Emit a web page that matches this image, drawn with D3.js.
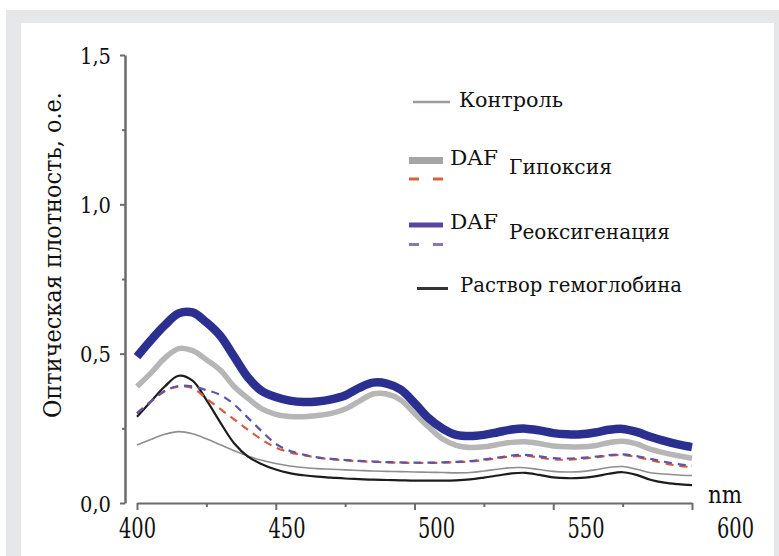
<!DOCTYPE html>
<html>
<head>
<meta charset="utf-8">
<script src="https://cdn.jsdelivr.net/npm/d3@7/dist/d3.min.js"></script>
<style>
  body { margin: 0; background: #fff; }
</style>
</head>
<body>
<script>
// длины волн, нм (шаг 5)
var wavelength = d3.range(400, 601, 5);

// Реоксигенация DAF (толстая синяя)
var reoxDAF = [0.49,0.545,0.595,0.635,0.638,0.605,0.56,0.49,0.42,0.375,0.355,0.343,0.338,0.340,0.347,0.36,0.385,0.403,0.40,0.38,
  0.335,0.285,0.25,0.228,0.224,0.228,0.237,0.246,0.249,0.243,0.234,0.230,0.230,0.236,0.245,0.248,0.238,0.222,0.208,0.196,0.187];
// Гипоксия DAF (толстая серая)
var hypoxDAF = [0.39,0.435,0.485,0.517,0.51,0.48,0.445,0.39,0.35,0.315,0.297,0.29,0.289,0.293,0.30,0.315,0.34,0.365,0.365,0.345,
  0.30,0.255,0.215,0.193,0.186,0.188,0.196,0.203,0.205,0.199,0.191,0.188,0.188,0.192,0.202,0.207,0.198,0.180,0.168,0.158,0.150];
// Реоксигенация (пунктир фиолетовый)
var reox = [0.30,0.34,0.375,0.392,0.39,0.378,0.362,0.33,0.285,0.24,0.198,0.175,0.162,0.153,0.148,0.144,0.141,0.139,0.137,0.136,
  0.135,0.135,0.136,0.138,0.14,0.146,0.152,0.159,0.161,0.156,0.150,0.149,0.151,0.155,0.160,0.163,0.157,0.148,0.138,0.130,0.125];
// Гипоксия (пунктир красный)
var hypox = [0.30,0.34,0.375,0.39,0.385,0.35,0.315,0.28,0.245,0.212,0.186,0.17,0.16,0.152,0.147,0.143,0.14,0.138,0.136,0.135,
  0.134,0.134,0.135,0.137,0.139,0.144,0.15,0.156,0.158,0.152,0.146,0.145,0.148,0.153,0.158,0.161,0.154,0.144,0.133,0.125,0.12];
// Контроль
var control = [0.194,0.213,0.23,0.239,0.232,0.215,0.195,0.175,0.157,0.143,0.132,0.124,0.119,0.115,0.113,0.111,0.109,0.107,0.106,0.105,
  0.104,0.103,0.102,0.101,0.102,0.107,0.113,0.118,0.118,0.112,0.106,0.104,0.105,0.111,0.119,0.122,0.113,0.101,0.097,0.094,0.092];
// Раствор гемоглобина
var hemoglobin = [0.289,0.34,0.39,0.426,0.41,0.345,0.27,0.2,0.155,0.13,0.112,0.1,0.093,0.088,0.085,0.082,0.080,0.078,0.077,0.076,
  0.075,0.075,0.075,0.076,0.079,0.085,0.092,0.099,0.101,0.094,0.086,0.083,0.084,0.089,0.098,0.103,0.094,0.078,0.068,0.063,0.060];

var xMajor = [400, 450, 500, 550, 600];
var xMinor = [425, 475, 525, 575];
var yMajor = [0, 0.5, 1.0, 1.5];
var yMinor = [0.25, 0.75, 1.25];

var W = 779, H = 556;
var serif = "DejaVu Serif";

var svg = d3.select("body").append("svg")
    .attr("width", W)
    .attr("height", H)
    .attr("font-family", serif);

// рамка
svg.append("rect").attr("x", 6).attr("y", 10).attr("width", W).attr("height", H).attr("fill", "#e6e7e9");
svg.append("rect").attr("x", 21).attr("y", 23).attr("width", 753).attr("height", H).attr("fill", "#fff");

var x = d3.scaleLinear().domain([400, 600]).range([137, 692]);
var xLab = d3.scaleLinear().domain([400, 600]).range([137, 735]); // подписи в оригинале сдвинуты
var y = d3.scaleLinear().domain([0, 1.5]).range([503, 55]);

var axisColor = "#6b6b6b";

// ось X
var gx = svg.append("g").attr("transform", "translate(0,503)");
gx.call(d3.axisBottom(x).tickValues(xMajor).tickSize(7).tickSizeOuter(0).tickFormat(""));
gx.append("g").call(d3.axisBottom(x).tickValues(xMinor).tickSize(4).tickSizeOuter(0).tickFormat(""))
  .select(".domain").remove();
gx.selectAll("path, line").attr("stroke", axisColor).attr("stroke-width", 2);

var gxl = svg.append("g").attr("transform", "translate(0,503)")
  .call(d3.axisBottom(xLab).tickValues(xMajor).tickSize(0).tickFormat(d3.format("d")));
gxl.attr("font-family", serif);
gxl.select(".domain").remove();
gxl.selectAll("text").attr("y", 35).attr("dy", 0)
  .attr("textLength", 37).attr("lengthAdjust", "spacingAndGlyphs")
  .style("font-size", "27px").attr("fill", "#111");

svg.append("text").attr("x", 708).attr("y", 503)
  .attr("textLength", 34).attr("lengthAdjust", "spacingAndGlyphs")
  .style("font-size", "24px").attr("fill", "#111").text("nm");

// ось Y
var gy = svg.append("g").attr("transform", "translate(125,0)");
gy.call(d3.axisLeft(y).tickValues(yMajor).tickSize(5).tickSizeOuter(0)
  .tickFormat(function(d) { return d.toFixed(1).replace(".", ","); }));
gy.attr("font-family", serif);
gy.append("g").call(d3.axisLeft(y).tickValues(yMinor).tickSize(3).tickSizeOuter(0).tickFormat(""))
  .select(".domain").remove();
gy.selectAll("path, line").attr("stroke", axisColor).attr("stroke-width", 2);
gy.select(".domain").attr("stroke-width", 2.5);
gy.selectAll("text").attr("x", -14).attr("dy", "0.36em")
  .attr("textLength", 31).attr("lengthAdjust", "spacingAndGlyphs")
  .style("font-size", "23px").attr("fill", "#111");

svg.append("text")
  .attr("transform", "translate(61,255) rotate(-90)")
  .attr("text-anchor", "middle")
  .attr("textLength", 326).attr("lengthAdjust", "spacingAndGlyphs")
  .style("font-size", "25px")
  .attr("fill", "#111")
  .text("Оптическая плотность, о.е.");

// кривые
var series = [
  {values: control,    color: "#8e8e8e", width: 1.6, dash: null},
  {values: hemoglobin, color: "#1c1c1c", width: 2.2, dash: null},
  {values: hypox,      color: "#d95a40", width: 2.2, dash: "8,6"},
  {values: reox,       color: "#5a55a6", width: 2.2, dash: "8,6"},
  {values: hypoxDAF,   color: "#b6b6b6", width: 5.5, dash: null},
  {values: reoxDAF,    color: "#2b2f8f", width: 8.5, dash: null}
];

var line = d3.line()
  .x(function(d, i) { return x(wavelength[i]); })
  .y(function(d) { return y(d); })
  .curve(d3.curveCatmullRom.alpha(0.5));

svg.append("g").selectAll("path")
  .data(series)
  .enter().append("path")
  .attr("d", function(s) { return line(s.values); })
  .attr("fill", "none")
  .attr("stroke", function(s) { return s.color; })
  .attr("stroke-width", function(s) { return s.width; })
  .attr("stroke-dasharray", function(s) { return s.dash; })
  .attr("stroke-linejoin", "round");

// легенда
var lg = svg.append("g").style("font-size", "21px").attr("fill", "#111");

function legLine(x1, x2, yy, color, w, dash) {
  lg.append("line").attr("x1", x1).attr("x2", x2).attr("y1", yy).attr("y2", yy)
    .attr("stroke", color).attr("stroke-width", w).attr("stroke-dasharray", dash);
}
function legText(tx, ty, len, s) {
  lg.append("text").attr("x", tx).attr("y", ty)
    .attr("textLength", len).attr("lengthAdjust", "spacingAndGlyphs").text(s);
}

legLine(413, 450, 102, "#a09898", 2.5, null);
legText(459, 107, 104, "Контроль");

legLine(409, 443, 160.5, "#a5a5a5", 7, null);
legLine(409, 443, 179, "#d9603f", 3, "10,14");
legText(450, 165, 48, "DAF");
legText(509, 174, 103, "Гипоксия");

legLine(409, 443, 225, "#5b44a0", 5, null);
legLine(409, 443, 244.5, "#8877b8", 3, "10,14");
legText(450, 229, 48, "DAF");
legText(509, 239, 161, "Реоксигенация");

legLine(417, 448, 288.5, "#333", 3, null);
legText(460, 292, 222, "Раствор гемоглобина");
</script>
</body>
</html>
